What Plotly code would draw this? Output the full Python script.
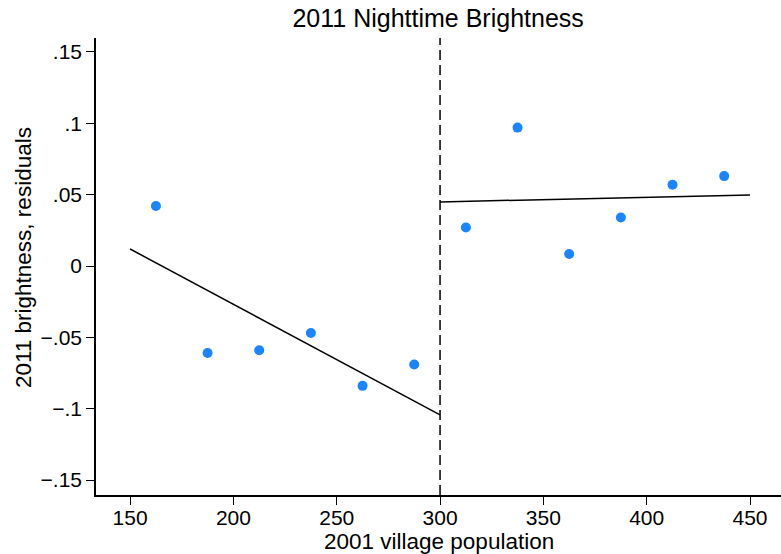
import plotly.graph_objects as go

# Binned scatter data
bin_x = [162.5, 187.5, 212.5, 237.5, 262.5, 287.5, 312.5, 337.5, 362.5, 387.5, 412.5, 437.5]
bin_y = [0.042, -0.061, -0.059, -0.047, -0.084, -0.069, 0.027, 0.097, 0.0084, 0.034, 0.057, 0.063]

# Linear fits each side of cutoff
left_fit_x = [150, 300]
left_fit_y = [0.0119, -0.1044]
right_fit_x = [300, 450]
right_fit_y = [0.0449, 0.0498]

cutoff = 300

y_tickvals = [-0.15, -0.1, -0.05, 0, 0.05, 0.1, 0.15]
y_ticktext = ["\u2212.15", "\u2212.1", "\u2212.05", "0", ".05", ".1", ".15"]
x_tickvals = [150, 200, 250, 300, 350, 400, 450]

FONT = "Liberation Sans, Arial, Helvetica, sans-serif"

fig = go.Figure()
fig.add_trace(go.Scatter(x=bin_x, y=bin_y, mode="markers",
                         marker=dict(color="#1a85ff", size=10, line=dict(width=0)),
                         showlegend=False))
fig.add_trace(go.Scatter(x=left_fit_x, y=left_fit_y, mode="lines",
                         line=dict(color="black", width=1.5), showlegend=False))
fig.add_trace(go.Scatter(x=right_fit_x, y=right_fit_y, mode="lines",
                         line=dict(color="black", width=1.5), showlegend=False))

fig.add_shape(type="line", x0=cutoff, x1=cutoff, y0=0, y1=1, xref="x", yref="paper",
              line=dict(color="black", width=1.5, dash="10px,5px"))

# Axis titles as annotations for precise placement
fig.add_annotation(text="2001 village population", xref="paper", yref="paper",
                   x=0.5007, y=-0.1007, xanchor="center", yanchor="middle",
                   showarrow=False, font=dict(size=22.5, family=FONT, color="black"))
fig.add_annotation(text="2011 brightness, residuals", xref="paper", yref="paper",
                   x=-0.105, y=0.5186, xanchor="center", yanchor="middle",
                   textangle=-90, showarrow=False,
                   font=dict(size=22.5, family=FONT, color="black"))

fig.update_layout(
    width=781, height=554,
    margin=dict(l=96, r=0, t=38, b=59),
    paper_bgcolor="white", plot_bgcolor="white",
    font=dict(family=FONT, size=21, color="black"),
    title=dict(text="2011 Nighttime Brightness", x=0.561, xanchor="center",
               y=1 - 18 / 554, yanchor="middle", yref="container",
               font=dict(size=25, family=FONT, color="black")),
    xaxis=dict(range=[133.5, 465], tickvals=x_tickvals, ticks="outside", ticklen=8,
               tickwidth=1.2, tickcolor="black", showline=True, linecolor="black",
               linewidth=1.5, showgrid=False, zeroline=False,
               tickfont=dict(size=21, family=FONT), ticklabelstandoff=-5),
    yaxis=dict(range=[-0.1605, 0.1598], tickvals=y_tickvals, ticktext=y_ticktext,
               ticks="outside", ticklen=8, tickwidth=1.2, tickcolor="black",
               showline=True, linecolor="black", linewidth=1.5, showgrid=False,
               zeroline=False, tickfont=dict(size=21, family=FONT)),
)

fig.write_html("out.html")
